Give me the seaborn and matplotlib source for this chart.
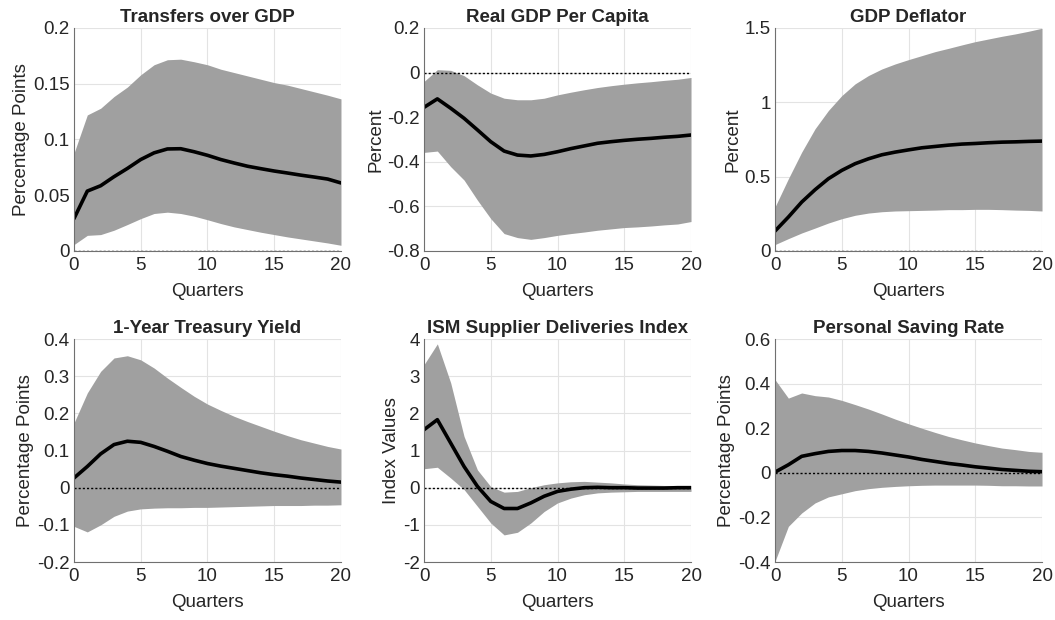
import numpy as np
import pandas as pd
import matplotlib
matplotlib.use("Agg")
import matplotlib.pyplot as plt
import seaborn as sns

quarters = list(range(21))

titles = ["Transfers over GDP", "Real GDP Per Capita", "GDP Deflator",
          "1-Year Treasury Yield", "ISM Supplier Deliveries Index", "Personal Saving Rate"]
ylabels = ["Percentage Points", "Percent", "Percent",
           "Percentage Points", "Index Values", "Percentage Points"]

# Median impulse responses
transfers_med = [0.029, 0.0537, 0.0585, 0.0666, 0.074, 0.082, 0.088, 0.0915, 0.0917, 0.089, 0.0858,
                 0.082, 0.0789, 0.076, 0.0738, 0.0717, 0.0699, 0.068, 0.0663, 0.0645, 0.061]
gdp_med = [-0.156, -0.118, -0.16, -0.205, -0.257, -0.31, -0.352, -0.37, -0.374, -0.367, -0.355,
           -0.341, -0.329, -0.317, -0.31, -0.304, -0.299, -0.295, -0.29, -0.286, -0.28]
deflator_med = [0.134, 0.228, 0.329, 0.412, 0.486, 0.542, 0.587, 0.62, 0.647, 0.665, 0.68,
                0.694, 0.703, 0.712, 0.719, 0.723, 0.728, 0.732, 0.734, 0.737, 0.739]
treasury_med = [0.026, 0.057, 0.091, 0.116, 0.125, 0.122, 0.111, 0.098, 0.084, 0.074, 0.065,
                0.058, 0.052, 0.046, 0.04, 0.035, 0.031, 0.026, 0.022, 0.018, 0.015]
ism_med = [1.56, 1.83, 1.2, 0.57, 0.036, -0.37, -0.56, -0.56, -0.41, -0.23, -0.1,
           -0.04, 0.0, 0.01, 0.0, 0.0, -0.01, -0.01, -0.01, 0.0, 0.0]
saving_med = [0.003, 0.036, 0.074, 0.086, 0.096, 0.1, 0.1, 0.096, 0.089, 0.08, 0.071,
              0.06, 0.051, 0.042, 0.035, 0.027, 0.021, 0.015, 0.011, 0.007, 0.005]

# Upper bounds of the credible bands
transfers_hi = [0.0876, 0.122, 0.128, 0.1385, 0.147, 0.158, 0.167, 0.1715, 0.172, 0.1697, 0.167,
                0.163, 0.16, 0.157, 0.154, 0.151, 0.1487, 0.1457, 0.1427, 0.1397, 0.1364]
gdp_hi = [-0.04, 0.013, 0.01, -0.014, -0.055, -0.092, -0.115, -0.122, -0.122, -0.115, -0.1,
          -0.088, -0.077, -0.067, -0.059, -0.052, -0.046, -0.041, -0.035, -0.03, -0.022]
deflator_hi = [0.296, 0.486, 0.665, 0.822, 0.945, 1.045, 1.124, 1.18, 1.224, 1.258, 1.287,
               1.314, 1.341, 1.363, 1.386, 1.408, 1.426, 1.444, 1.46, 1.478, 1.498]
treasury_hi = [0.174, 0.255, 0.313, 0.349, 0.355, 0.344, 0.322, 0.295, 0.27, 0.246, 0.225,
               0.208, 0.192, 0.178, 0.165, 0.152, 0.14, 0.129, 0.12, 0.111, 0.104]
ism_hi = [3.31, 3.87, 2.82, 1.38, 0.48, 0.03, -0.12, -0.1, 0.0, 0.08, 0.13,
          0.16, 0.17, 0.15, 0.13, 0.1, 0.08, 0.07, 0.06, 0.06, 0.06]
saving_hi = [0.418, 0.335, 0.358, 0.346, 0.34, 0.325, 0.306, 0.286, 0.264, 0.241, 0.22,
             0.2, 0.181, 0.163, 0.148, 0.134, 0.122, 0.111, 0.104, 0.096, 0.092]

# Lower bounds of the credible bands
transfers_lo = [0.0057, 0.014, 0.0147, 0.0186, 0.0237, 0.029, 0.0336, 0.0348, 0.0336, 0.0312, 0.028,
                0.0246, 0.0216, 0.0192, 0.0168, 0.0147, 0.0126, 0.0108, 0.009, 0.0072, 0.0051]
gdp_lo = [-0.358, -0.352, -0.422, -0.482, -0.572, -0.655, -0.722, -0.74, -0.748, -0.74, -0.73,
          -0.722, -0.715, -0.707, -0.701, -0.695, -0.692, -0.688, -0.683, -0.679, -0.668]
deflator_lo = [0.043, 0.083, 0.121, 0.154, 0.188, 0.217, 0.24, 0.255, 0.264, 0.269, 0.271,
               0.273, 0.275, 0.278, 0.278, 0.28, 0.28, 0.278, 0.275, 0.273, 0.269]
treasury_lo = [-0.104, -0.119, -0.1, -0.077, -0.063, -0.057, -0.055, -0.054, -0.054, -0.053, -0.053,
               -0.052, -0.051, -0.05, -0.049, -0.048, -0.048, -0.048, -0.047, -0.047, -0.046]
ism_lo = [0.51, 0.55, 0.26, -0.05, -0.5, -0.95, -1.27, -1.2, -0.95, -0.64, -0.41,
          -0.28, -0.19, -0.14, -0.12, -0.11, -0.1, -0.1, -0.1, -0.1, -0.1]
saving_lo = [-0.397, -0.24, -0.18, -0.135, -0.108, -0.094, -0.08, -0.071, -0.065, -0.061, -0.058,
             -0.056, -0.055, -0.055, -0.055, -0.055, -0.056, -0.058, -0.058, -0.059, -0.059]

medians = [transfers_med, gdp_med, deflator_med, treasury_med, ism_med, saving_med]
uppers = [transfers_hi, gdp_hi, deflator_hi, treasury_hi, ism_hi, saving_hi]
lowers = [transfers_lo, gdp_lo, deflator_lo, treasury_lo, ism_lo, saving_lo]

ylims = [(0, 0.2), (-0.8, 0.2), (0, 1.5), (-0.2, 0.4), (-2, 4), (-0.4, 0.6)]
yticks = [[0, 0.05, 0.1, 0.15, 0.2],
          [-0.8, -0.6, -0.4, -0.2, 0, 0.2],
          [0, 0.5, 1, 1.5],
          [-0.2, -0.1, 0, 0.1, 0.2, 0.3, 0.4],
          [-2, -1, 0, 1, 2, 3, 4],
          [-0.4, -0.2, 0, 0.2, 0.4, 0.6]]
yticklabels = [["0", "0.05", "0.1", "0.15", "0.2"],
               ["-0.8", "-0.6", "-0.4", "-0.2", "0", "0.2"],
               ["0", "0.5", "1", "1.5"],
               ["-0.2", "-0.1", "0", "0.1", "0.2", "0.3", "0.4"],
               ["-2", "-1", "0", "1", "2", "3", "4"],
               ["-0.4", "-0.2", "0", "0.2", "0.4", "0.6"]]
xticks = [0, 5, 10, 15, 20]

sns.set_style("white")
plt.rcParams["font.family"] = ["Liberation Sans", "DejaVu Sans"]

fig = plt.figure(figsize=(10.55, 6.2), dpi=100)

lefts = [0.0701, 0.4019, 0.7346]
bottoms = [0.5952, 0.0935]
width, height = 0.2531, 0.3597

band_color = "#a0a0a0"
spine_color = "#707070"
text_color = "#262626"
fs = 13.5

for i in range(6):
    row, col = divmod(i, 3)
    ax = fig.add_axes([lefts[col], bottoms[row], width, height])
    df = pd.DataFrame({"Quarters": quarters, "median": medians[i],
                       "lo": lowers[i], "hi": uppers[i]})

    ax.fill_between(df["Quarters"], df["lo"], df["hi"], color=band_color,
                    linewidth=0, zorder=2)
    ax.axhline(0, color="black", linestyle=(0, (1.5, 1.5)), linewidth=1.0, zorder=3)
    sns.lineplot(data=df, x="Quarters", y="median", ax=ax, color="black",
                 linewidth=2.6, zorder=4)

    ax.set_xlim(0, 20)
    ax.set_ylim(*ylims[i])
    ax.set_xticks(xticks)
    ax.set_xticklabels([str(t) for t in xticks])
    ax.set_yticks(yticks[i])
    ax.set_yticklabels(yticklabels[i])

    ax.grid(True, color="#e3e3e3", linewidth=0.8, zorder=0)
    ax.set_axisbelow(True)
    for side in ["top", "right"]:
        ax.spines[side].set_visible(False)
    for side in ["left", "bottom"]:
        ax.spines[side].set_color(spine_color)
        ax.spines[side].set_linewidth(0.8)
        ax.spines[side].set_zorder(5)

    ax.tick_params(axis="both", direction="in", length=3, width=0.8,
                   color=spine_color, labelsize=fs, labelcolor=text_color)
    ax.tick_params(axis="x", pad=4)
    ax.tick_params(axis="y", pad=3)
    ax.set_xlabel("Quarters", fontsize=fs, color=text_color, labelpad=7)
    ax.set_ylabel(ylabels[i], fontsize=fs, color=text_color, labelpad=2)
    ax.set_title(titles[i], fontsize=fs, fontweight="bold", color=text_color, pad=4)

fig.savefig("out.png", dpi=100, facecolor="white")
